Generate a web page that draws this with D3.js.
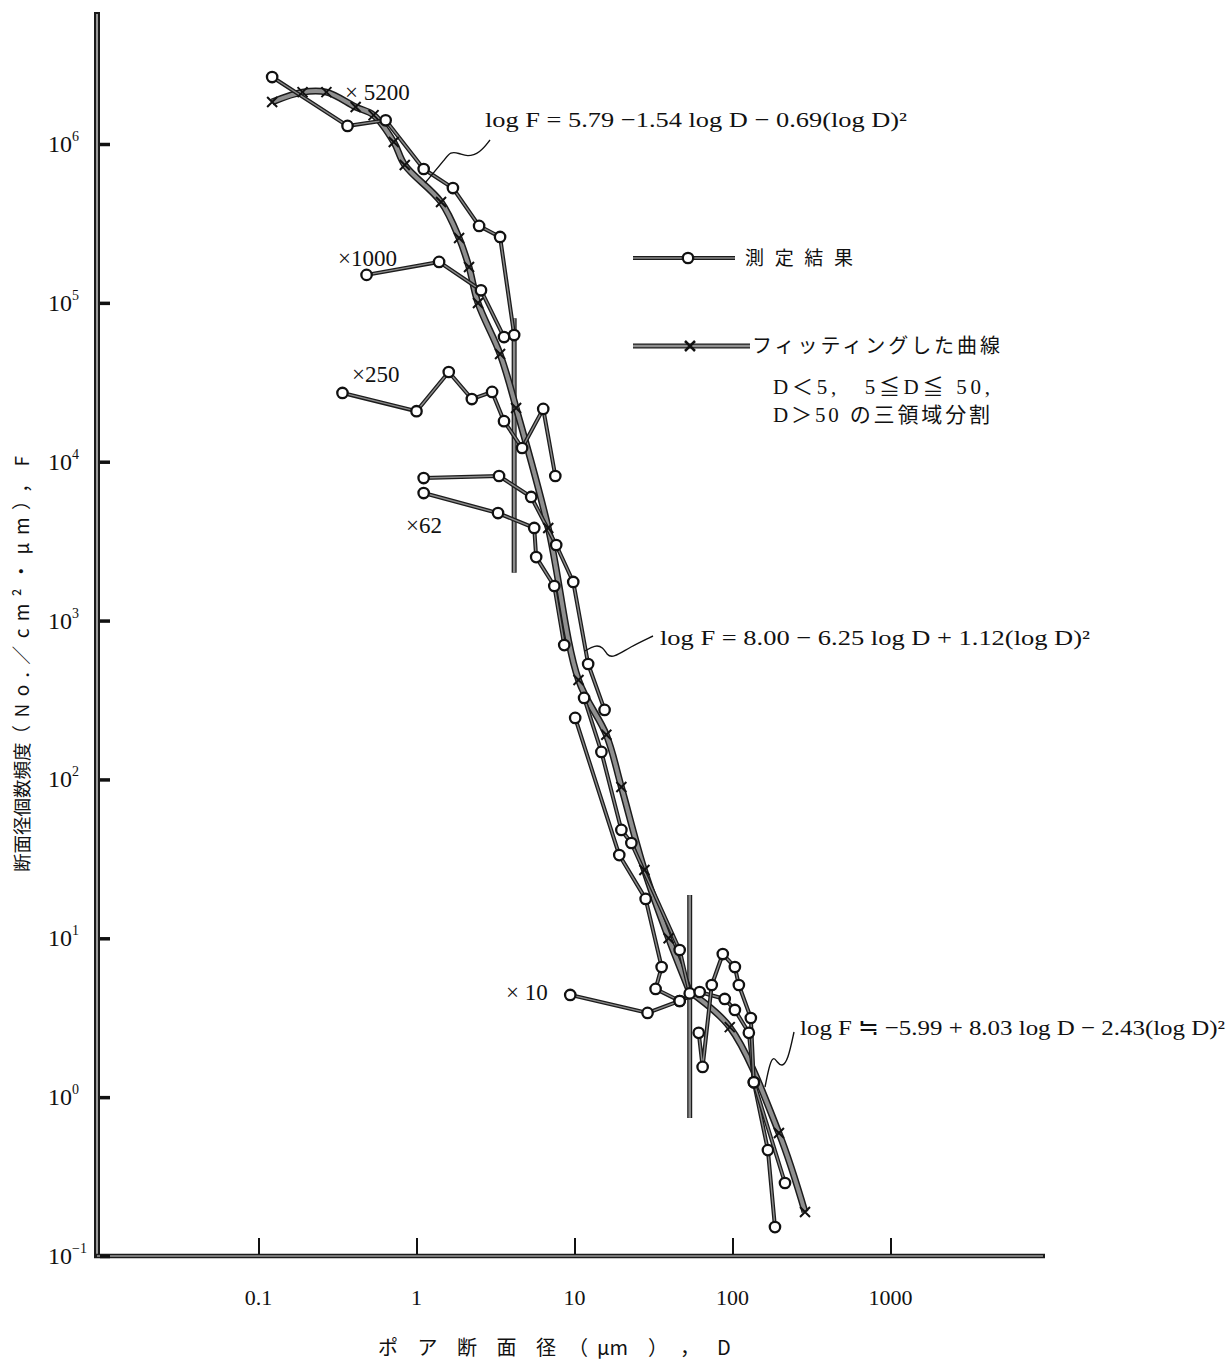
<!DOCTYPE html>
<html>
<head>
<meta charset="utf-8">
<script src="https://cdn.jsdelivr.net/npm/d3@7"></script>
<style>
body { margin: 0; background: #fff; }
svg { display: block; background: #fff; }
.serif { font-family: 'Liberation Serif', 'Noto Sans CJK JP', serif; fill: #111; }
.jp { font-family: 'Noto Sans CJK JP', sans-serif; fill: #111; }
</style>
</head>
<body>
<svg width="1231" height="1362"></svg>
<script>
//Tick values and labels.
var xTicks = [0.1, 1, 10, 100, 1000];
var xTickLabels = ['0.1', '1', '10', '100', '1000'];
var yTicks = [1e-1, 1e0, 1e1, 1e2, 1e3, 1e4, 1e5, 1e6];
var yTickExps = ['\u22121', '0', '1', '2', '3', '4', '5', '6'];

//Measured values [D, F], one array per magnification.
var meas5200 = [[0.122, 2.64e6], [0.366, 1.30e6], [0.638, 1.41e6], [1.11, 6.96e5], [1.70, 5.28e5],
	[2.49, 3.05e5], [3.38, 2.60e5], [4.15, 6.27e4]];
var meas1000 = [[0.483, 1.50e5], [1.39, 1.81e5], [2.56, 1.20e5], [3.58, 6.09e4]];
var meas250 = [[0.340, 2.71e4], [1.0, 2.08e4], [1.60, 3.67e4], [2.24, 2.48e4], [3.01, 2.75e4],
	[3.58, 1.80e4], [4.66, 1.22e4], [6.34, 2.15e4], [7.56, 8.13e3]];
var meas62a = [[1.11, 7.89e3], [3.33, 8.13e3], [5.32, 6.0e3], [7.66, 2.99e3], [9.82, 1.75e3],
	[12.2, 533], [15.5, 274]];
var meas62b = [[1.11, 6.35e3], [3.28, 4.75e3], [5.56, 3.83e3], [5.72, 2.51e3], [7.45, 1.65e3], [8.61, 701]];
var meas62c = [[10.1, 244], [19.2, 33.4], [28.2, 17.7], [35.6, 6.59], [32.6, 4.80], [46.3, 4.03]];
var meas62d = [[11.5, 326], [14.8, 149], [19.8, 48.1], [22.9, 39.8], [46.3, 8.44], [53.6, 4.5]];
var meas10a = [[9.40, 4.40], [29.0, 3.39], [46.3, 4.03], [62.0, 4.59], [89.3, 4.15], [103.5, 3.54],
	[126.9, 2.54], [136.5, 1.24], [167.5, 0.464], [185.7, 0.152]];
var meas10b = [[61.1, 2.54], [64.7, 1.55], [73.9, 5.08], [86.8, 7.96], [103.5, 6.59], [109.7, 5.08],
	[130.6, 3.15], [136.5, 1.24], [214.9, 0.288]];
var measured = [meas5200, meas1000, meas250, meas62a, meas62b, meas62c, meas62d, meas10a, meas10b];

//Fitted curve values [D, F] for the three regions.
var fit1 = [[0.122, 1.84e6], [0.19, 2.12e6], [0.269, 2.12e6], [0.412, 1.71e6], [0.535, 1.52e6],
	[0.718, 1.03e6], [0.843, 7.37e5], [1.43, 4.31e5], [1.86, 2.56e5], [2.15, 1.68e5], [2.45, 9.98e4],
	[3.38, 4.76e4], [4.27, 2.18e4]];
var fit2 = [[4.27, 2.18e4], [6.82, 3.83e3], [10.6, 423], [15.9, 191], [19.8, 89.6], [27.7, 26.9],
	[39.4, 10.0], [53.6, 4.6]];
var fit3 = [[53.6, 4.6], [96.1, 2.76], [196.8, 0.594], [287.7, 0.189]];

//Region boundaries: D, top F, bottom F.
var boundD = [4.15, 53.6];
var boundTop = [8.0e4, 18.7];
var boundBottom = [2.0e3, 0.74];

//Magnification labels.
var magLabels = ['\u00d7 5200', '\u00d71000', '\u00d7250', '\u00d762', '\u00d7 10'];

var svg = d3.select('svg');
var width = +svg.attr('width'), height = +svg.attr('height');

//Log scales, one decade is about 158 px on both axes.
var xScale = d3.scaleLog().domain([0.1, 1000]).range([258.5, 890.5]);
var yScale = d3.scaleLog().domain([0.1, 1e6]).range([1256, 144]);
var axisX0 = 97, axisXEnd = 1045, axisYTop = 12;

//Line generators.
var lineMeas = d3.line()
	.x(function(d) { return xScale(d[0]); })
	.y(function(d) { return yScale(d[1]); });
var lineFit = d3.line()
	.x(function(d) { return xScale(d[0]); })
	.y(function(d) { return yScale(d[1]); })
	.curve(d3.curveCatmullRom.alpha(0.5));

//Scan-like double stroke: dark rim, grey core.
function doubleStroke(g, d, gen, outerW, innerW, innerCol) {
	g.append('path').attr('d', gen(d)).attr('fill', 'none')
		.attr('stroke', '#1c1c1c').attr('stroke-width', outerW).attr('stroke-linejoin', 'round');
	g.append('path').attr('d', gen(d)).attr('fill', 'none')
		.attr('stroke', innerCol).attr('stroke-width', innerW).attr('stroke-linejoin', 'round');
}

//Cross marker path centered at 0,0.
function crossPath(s) {
	return 'M' + (-s) + ',' + (-s) + 'L' + s + ',' + s + 'M' + (-s) + ',' + s + 'L' + s + ',' + (-s);
}

//Axes lines.
svg.append('line')
	.attr('x1', axisX0).attr('x2', axisX0).attr('y1', axisYTop).attr('y2', yScale(0.1) + 2)
	.attr('stroke', '#1a1a1a').attr('stroke-width', 6);
svg.append('line')
	.attr('x1', axisX0).attr('x2', axisX0).attr('y1', axisYTop + 2).attr('y2', yScale(0.1))
	.attr('stroke', '#9a9a9a').attr('stroke-width', 2);
svg.append('line')
	.attr('x1', axisX0 - 3).attr('x2', axisXEnd).attr('y1', yScale(0.1)).attr('y2', yScale(0.1))
	.attr('stroke', '#1a1a1a').attr('stroke-width', 4.5);
svg.append('line')
	.attr('x1', axisX0).attr('x2', axisXEnd - 2).attr('y1', yScale(0.1)).attr('y2', yScale(0.1))
	.attr('stroke', '#9a9a9a').attr('stroke-width', 1.5);

//Y ticks and labels.
svg.append('g')
	.attr('transform', 'translate(' + (axisX0 + 3) + ',0)')
	.call(d3.axisRight(yScale).tickValues(yTicks).tickSize(10).tickFormat(''))
	.call(function(g) { g.select('.domain').remove(); })
	.selectAll('line').attr('stroke', '#111').attr('stroke-width', 3.5);
var yLab = svg.append('g').selectAll('text')
	.data(yTicks).enter().append('text')
	.attr('class', 'serif')
	.attr('x', 48)
	.attr('y', function(d) { return yScale(d) + 8; })
	.style('font-size', '24px');
yLab.append('tspan').text('10');
yLab.append('tspan')
	.text(function(d, i) { return yTickExps[i]; })
	.attr('dy', -11)
	.style('font-size', '14px');

//X ticks and labels.
svg.append('g')
	.attr('transform', 'translate(0,' + (yScale(0.1) - 2) + ')')
	.call(d3.axisTop(xScale).tickValues(xTicks).tickSize(16).tickFormat(''))
	.call(function(g) { g.select('.domain').remove(); })
	.selectAll('line').attr('stroke', '#111').attr('stroke-width', 2);
svg.append('g').selectAll('text')
	.data(xTicks).enter().append('text')
	.attr('class', 'serif')
	.attr('x', function(d) { return xScale(d); })
	.attr('y', 1305)
	.attr('text-anchor', 'middle')
	.style('font-size', '22px')
	.text(function(d, i) { return xTickLabels[i]; });

//X axis title, spaced out like the typeset original.
var xTitle = [['ポ ア 断 面 径', 378, 178], ['（', 568, 0], ['μm', 597, 0], ['）', 648, 0],
	['，', 680, 0], ['D', 717, 0]];
svg.append('g').selectAll('text')
	.data(xTitle).enter().append('text')
	.attr('class', 'jp')
	.attr('x', function(d) { return d[1]; })
	.attr('y', 1355)
	.attr('textLength', function(d) { return d[2] ? d[2] : null; })
	.attr('lengthAdjust', 'spacing')
	.style('font-size', '20px')
	.text(function(d) { return d[0]; });
//Y axis title, rotated: compact kanji, then a spaced unit part.
var yTitle = svg.append('g').attr('transform', 'translate(29,872) rotate(-90)');
yTitle.append('text')
	.attr('class', 'jp')
	.style('font-size', '18.5px')
	.text('断面径個数頻度');
yTitle.append('text')
	.attr('class', 'jp')
	.attr('x', 128)
	.attr('textLength', 288).attr('lengthAdjust', 'spacing')
	.style('font-size', '19px')
	.text('（No.／cm²・μm），F');

//Region boundary lines.
var plot = svg.append('g');
boundD.forEach(function(d, i) {
	doubleStroke(plot, [[d, boundTop[i]], [d, boundBottom[i]]], lineMeas, 5, 2.5, '#8c8c8c');
});

//Fitted curves, thick grey bands.
[fit1, fit2, fit3].forEach(function(f) {
	doubleStroke(plot, f, lineFit, 7, 4, '#8f8f8f');
});

//Measured polylines.
measured.forEach(function(m) {
	doubleStroke(plot, m, lineMeas, 4, 1.4, '#8a8a8a');
});

//Cross markers on fitted curves.
var fitPts = fit1.concat(fit2.slice(1, -1), fit3.slice(1));
plot.selectAll('path.cross')
	.data(fitPts).enter().append('path')
	.attr('class', 'cross')
	.attr('transform', function(d) { return 'translate(' + xScale(d[0]) + ',' + yScale(d[1]) + ')'; })
	.attr('d', crossPath(5))
	.attr('stroke', '#111').attr('stroke-width', 2).attr('fill', 'none');

//Circle markers on measured values.
var measPts = [].concat.apply([], measured);
plot.selectAll('circle.meas')
	.data(measPts).enter().append('circle')
	.attr('class', 'meas')
	.attr('cx', function(d) { return xScale(d[0]); })
	.attr('cy', function(d) { return yScale(d[1]); })
	.attr('r', 5.2)
	.attr('fill', '#fff').attr('stroke', '#111').attr('stroke-width', 2.3);

//Magnification labels.
var magPos = [[345, 100], [338, 266], [352, 382], [406, 533], [506, 1000]];
svg.append('g').selectAll('text')
	.data(magLabels).enter().append('text')
	.attr('class', 'serif')
	.attr('x', function(d, i) { return magPos[i][0]; })
	.attr('y', function(d, i) { return magPos[i][1]; })
	.style('font-size', '23px')
	.text(function(d) { return d; });

//Equations with wavy leader lines.
var eqText = ['log F = 5.79 −1.54 log D − 0.69(log D)²',
	'log F = 8.00 − 6.25 log D + 1.12(log D)²',
	'log F ≒ −5.99 + 8.03 log D − 2.43(log D)²'];
var eqPos = [[485, 127, 422], [660, 645, 430], [800, 1035, 425]];
svg.append('g').selectAll('text')
	.data(eqText).enter().append('text')
	.attr('class', 'serif')
	.attr('x', function(d, i) { return eqPos[i][0]; })
	.attr('y', function(d, i) { return eqPos[i][1]; })
	.attr('textLength', function(d, i) { return eqPos[i][2]; })
	.attr('lengthAdjust', 'spacingAndGlyphs')
	.style('font-size', '22px')
	.text(function(d) { return d; });
var leaders = [
	[[490, 140], [480, 153], [467, 157], [459, 153], [450, 152], [446, 158], [425, 183]],
	[[653, 636], [630, 647], [613, 658], [607, 655], [603, 647], [595, 645], [585, 651]],
	[[794, 1032], [788, 1060], [782, 1067], [777, 1062], [774, 1057], [770, 1062], [765, 1087]]];
var leaderLine = d3.line().curve(d3.curveBasis);
svg.append('g').selectAll('path')
	.data(leaders).enter().append('path')
	.attr('d', leaderLine)
	.attr('fill', 'none').attr('stroke', '#111').attr('stroke-width', 1.4);

//Legend.
var legend = svg.append('g');
doubleStroke(legend, [[633, 258], [735, 258]], d3.line(), 4, 1.4, '#8a8a8a');
legend.append('circle').attr('cx', 688).attr('cy', 258).attr('r', 5.2)
	.attr('fill', '#fff').attr('stroke', '#111').attr('stroke-width', 2.3);
legend.append('text').attr('class', 'jp')
	.attr('x', 745).attr('y', 265).attr('textLength', 108).attr('lengthAdjust', 'spacing')
	.style('font-size', '19px').text('測定結果');
doubleStroke(legend, [[633, 346], [750, 346]], d3.line(), 5, 2.5, '#8f8f8f');
legend.append('path').attr('transform', 'translate(690,346)').attr('d', crossPath(5))
	.attr('stroke', '#111').attr('stroke-width', 2.5).attr('fill', 'none');
legend.append('text').attr('class', 'jp')
	.attr('x', 752).attr('y', 353).attr('textLength', 248).attr('lengthAdjust', 'spacing')
	.style('font-size', '20px').text('フィッティングした曲線');
legend.append('text').attr('class', 'serif')
	.attr('x', 773).attr('y', 394).attr('textLength', 217).attr('lengthAdjust', 'spacing')
	.style('font-size', '21px').text('D＜5,　5≦D≦ 50,');
legend.append('text').attr('class', 'serif')
	.attr('x', 773).attr('y', 422).attr('textLength', 217).attr('lengthAdjust', 'spacing')
	.style('font-size', '21px').text('D＞50 の三領域分割');
</script>
</body>
</html>
